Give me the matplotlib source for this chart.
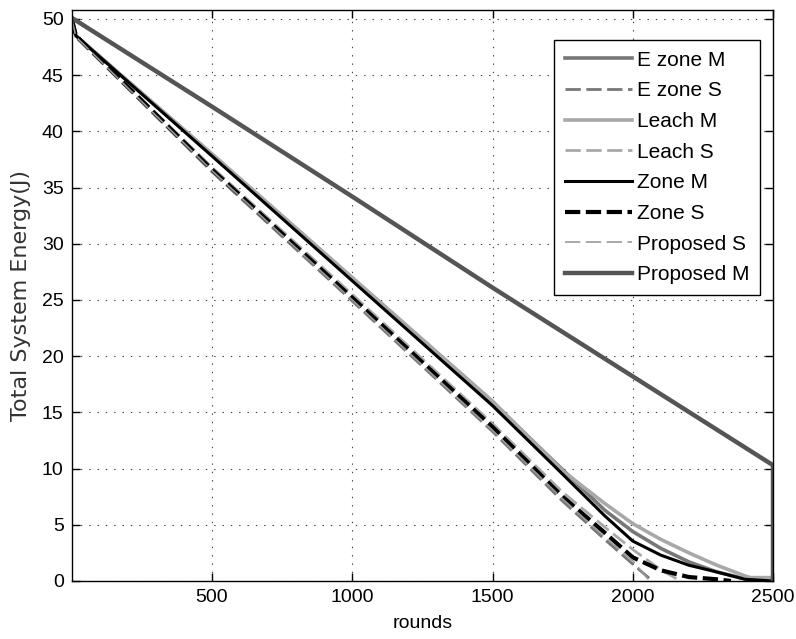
import matplotlib
matplotlib.use("Agg")
import matplotlib.pyplot as plt

# values
rounds_ezone_m = [0, 15, 500, 1000, 1500, 1750, 1900, 2000, 2100, 2200, 2300, 2400, 2450]
energy_ezone_m = [50, 48.5, 37.9, 26.9, 15.9, 9.9, 6.3, 4.4, 2.9, 1.7, 0.8, 0.2, 0]

rounds_ezone_s = [0, 15, 500, 1000, 1500, 1750, 1900, 2000, 2070]
energy_ezone_s = [50, 48.4, 36.4, 24.9, 13.3, 7.1, 3.7, 1.5, 0]

rounds_leach_m = [0, 15, 500, 1000, 1500, 1750, 1900, 2000, 2100, 2200, 2300, 2400, 2420, 2500]
energy_leach_m = [50, 48.5, 38.0, 27.0, 16.0, 9.8, 6.9, 5.1, 3.7, 2.5, 1.4, 0.45, 0.3, 0.3]

rounds_leach_s = [0, 15, 500, 1000, 1500, 1750, 1900, 2000, 2100, 2170]
energy_leach_s = [50, 48.5, 36.8, 25.5, 14.0, 7.9, 4.8, 2.8, 1.0, 0]

rounds_zone_m = [0, 15, 500, 1000, 1500, 1750, 1900, 2000, 2100, 2200, 2300, 2400, 2500]
energy_zone_m = [50, 48.5, 37.8, 26.7, 15.6, 9.5, 5.8, 3.55, 2.3, 1.4, 0.8, 0.15, 0]

rounds_zone_s = [0, 15, 500, 1000, 1500, 1750, 1900, 2000, 2100, 2200, 2300, 2350]
energy_zone_s = [50, 48.5, 36.6, 25.2, 13.7, 7.5, 4.3, 2.1, 0.95, 0.35, 0.15, 0]

rounds_prop_s = [0, 15, 500, 1000, 1500, 1750, 1900, 2000, 2060]
energy_prop_s = [50, 48.4, 36.5, 25.0, 13.4, 7.3, 3.9, 1.8, 0]

rounds_prop_m = [0, 500, 1000, 1500, 2000, 2500, 2500]
energy_prop_m = [50.1, 42.2, 34.2, 26.1, 18.2, 10.3, 0]

x_ticks = [500, 1000, 1500, 2000, 2500]
y_ticks = [0, 5, 10, 15, 20, 25, 30, 35, 40, 45, 50]

plt.rcParams['font.family'] = ['Liberation Sans', 'DejaVu Sans']
plt.rcParams['lines.scale_dashes'] = False

fig = plt.figure(figsize=(7.96, 6.39), dpi=100)
ax = fig.add_axes([0.0905, 0.0908, 0.8806, 0.8936])

dash = (0, (11, 4))
ax.plot(rounds_ezone_m, energy_ezone_m, color='#777777', lw=2.6, label='E zone M')
ax.plot(rounds_ezone_s, energy_ezone_s, color='#777777', lw=2.0, linestyle=dash, label='E zone S')
ax.plot(rounds_leach_m, energy_leach_m, color='#a8a8a8', lw=2.6, label='Leach M')
ax.plot(rounds_leach_s, energy_leach_s, color='#a8a8a8', lw=2.0, linestyle=dash, label='Leach S')
ax.plot(rounds_zone_m, energy_zone_m, color='black', lw=2.2, label='Zone M')
ax.plot(rounds_zone_s, energy_zone_s, color='black', lw=3.0, linestyle=dash, label='Zone S')
ax.plot(rounds_prop_s, energy_prop_s, color='#999999', lw=1.2, linestyle=dash, label='Proposed S')
ax.plot(rounds_prop_m, energy_prop_m, color='#555555', lw=3.2, label='Proposed M')

ax.set_xlim(1, 2500)
ax.set_ylim(0, 50.8)
ax.set_xticks(x_ticks)
ax.set_yticks(y_ticks)
ax.tick_params(direction='in', length=6, width=1, top=True, right=True, labelsize=14, pad=6)
ax.grid(True, color='#444444', linestyle=(0, (1, 5)), linewidth=0.8)
for s in ax.spines.values():
    s.set_linewidth(1.0)

ax.set_xlabel('rounds', fontsize=14, labelpad=6)
ax.set_ylabel('Total System Energy(J)', fontsize=16, family='DejaVu Sans', color='#333333', labelpad=8)

leg = ax.legend(loc='upper right', bbox_to_anchor=(0.981, 0.947), borderaxespad=0,
                fontsize=15, handlelength=3.2, handletextpad=0.25, labelspacing=0.56,
                borderpad=0.5, fancybox=False, framealpha=1)
leg.get_frame().set_edgecolor('black')
leg.get_frame().set_linewidth(1.0)

plt.savefig('out.png', dpi=100)
